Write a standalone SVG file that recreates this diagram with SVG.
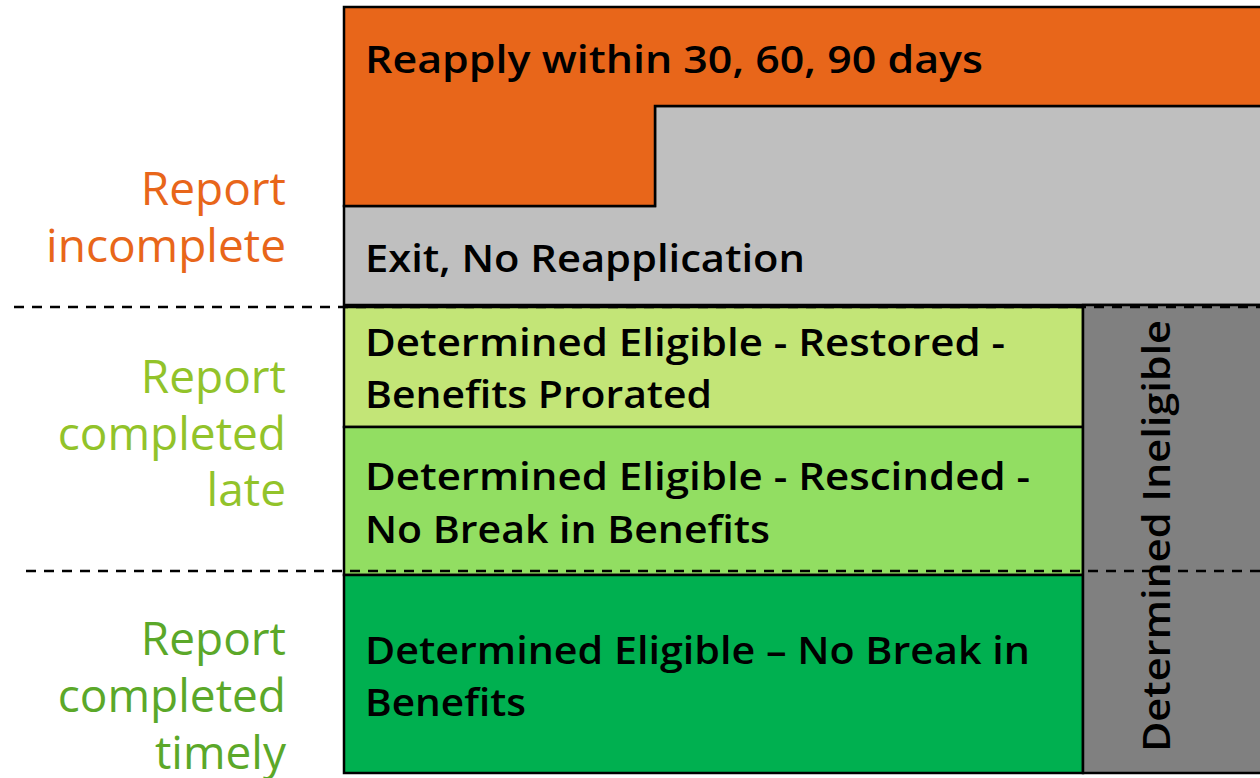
<svg xmlns="http://www.w3.org/2000/svg" width="1260" height="778" viewBox="0 0 1260 778">
<style>
.box{stroke:#000;stroke-width:2.5;stroke-linejoin:miter}
.main{font-family:"Open Sans","DejaVu Sans",sans-serif;font-weight:600;font-size:38px;fill:#000}
.lab{font-family:"Open Sans","DejaVu Sans",sans-serif;font-weight:400;font-size:46px;text-anchor:end}
.dash{stroke:#000;stroke-width:2.5;stroke-dasharray:10 8;fill:none}
</style>
<rect width="1260" height="778" fill="#fff"/>
<g id="exit">
<path class="box" fill="#BFBFBF" d="M344,206 L344,305 L1262,305 L1262,106 L655,106 L655,206 Z"/>
<text class="main" x="365" y="272" font-size="41" textLength="440" lengthAdjust="spacingAndGlyphs">Exit, No Reapplication</text>
</g>
<g id="reapply">
<path class="box" fill="#E8661A" d="M344,7 L1262,7 L1262,106 L655,106 L655,206 L344,206 Z"/>
<text class="main" x="365" y="73" font-size="41" textLength="618" lengthAdjust="spacingAndGlyphs">Reapply within 30, 60, 90 days</text>
</g>
<g id="restored">
<rect class="box" fill="#C3E577" x="344" y="307" width="739" height="120"/>
<text class="main" x="365" y="356" textLength="640" lengthAdjust="spacingAndGlyphs">Determined Eligible - Restored -</text>
<text class="main" x="365" y="408" textLength="347" lengthAdjust="spacingAndGlyphs">Benefits Prorated</text>
</g>
<g id="rescinded">
<rect class="box" fill="#92DE62" x="344" y="427" width="739" height="148"/>
<text class="main" x="365" y="490" textLength="665" lengthAdjust="spacingAndGlyphs">Determined Eligible - Rescinded -</text>
<text class="main" x="365" y="543" textLength="405" lengthAdjust="spacingAndGlyphs">No Break in Benefits</text>
</g>
<g id="timely">
<rect class="box" fill="#00B050" x="344" y="575" width="739" height="198"/>
<text class="main" x="365" y="664" textLength="665" lengthAdjust="spacingAndGlyphs">Determined Eligible – No Break in</text>
<text class="main" x="365" y="716" textLength="161" lengthAdjust="spacingAndGlyphs">Benefits</text>
</g>
<g id="ineligible">
<rect class="box" fill="#808080" x="1083" y="305" width="180" height="468"/>
<text class="main" transform="translate(1170,752) rotate(-90)" x="0" y="0" font-size="44" textLength="432" lengthAdjust="spacingAndGlyphs">Determined Ineligible</text>
</g>
<g id="labels">
<text class="lab" fill="#E8661A" x="286" y="205">Report</text>
<text class="lab" fill="#E8661A" x="286" y="262">incomplete</text>
<text class="lab" fill="#92C32A" x="286" y="393">Report</text>
<text class="lab" fill="#92C32A" x="286" y="450">completed</text>
<text class="lab" fill="#92C32A" x="286" y="506">late</text>
<text class="lab" fill="#5BA829" x="286" y="655">Report</text>
<text class="lab" fill="#5BA829" x="286" y="712">completed</text>
<text class="lab" fill="#5BA829" x="286" y="769">timely</text>
</g>
<g id="connectors">
<line class="dash" x1="14" y1="307" x2="1260" y2="307"/>
<line class="dash" x1="26" y1="571" x2="1260" y2="571"/>
</g>
</svg>
